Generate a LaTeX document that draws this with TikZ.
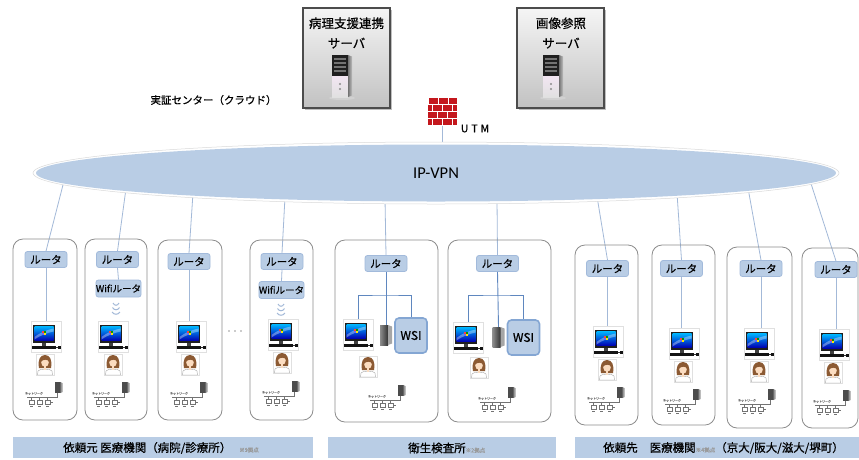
\documentclass[tikz,border=0pt]{standalone}
\usepackage{fontspec}
\setmainfont{Noto Sans CJK JP}[FakeBold=0.6]
\newfontfamily\latinfont{Carlito}
\usetikzlibrary{shapes.geometric}

\definecolor{netblue}{HTML}{B9CDE5}
\definecolor{netedge}{HTML}{A2BADB}
\definecolor{wire}{HTML}{A3B9D8}
\definecolor{treewire}{HTML}{5F87BF}
\definecolor{wsiedge}{HTML}{84A6D3}
\definecolor{hair}{HTML}{8C5A33}
\definecolor{skin}{HTML}{FBDCC0}
\definecolor{brick}{HTML}{C4171D}

\pgfdeclarelayer{back}
\pgfdeclarelayer{wires}
\pgfsetlayers{back,wires,main}

\tikzset{
  fsz/.style={font={\fontsize{#1}{#1}\selectfont}},
  grpbox/.style={draw=black!45, line width=0.8, rounded corners=10},
  routerbox/.style={fill=netblue, draw=netedge, line width=0.8, rounded corners=2.5,
    minimum width=42, minimum height=16, inner sep=0, fsz=10.5},
  wifibox/.style={routerbox, minimum width=43, minimum height=17, fsz=9.5},
  wirelink/.style={draw=wire, line width=0.8},
  treeline/.style={draw=treewire, line width=0.9},
  wsibox/.style={fill=netblue, draw=wsiedge, line width=1.6, rounded corners=4,
    minimum width=32, minimum height=35, inner sep=0, fsz=12},
  barbox/.style={fill=netblue, minimum height=21, inner sep=0},
  srvbox/.style={top color=black!4, bottom color=black!24, draw=black!70, line width=1.1,
    minimum width=87, minimum height=100, inner sep=0},
  thumb/.style={draw=black!12, line width=0.4, inner sep=0},
  % desktop computer
  pcicon/.pic={
    \node[thumb, minimum width=30, minimum height=31] (-frame) at (2,11.5) {};
    \fill[black!88] (-11,0) rectangle (11,17.5);
    \shade[top color=cyan!70!blue, bottom color=blue!70!black] (-9.5,1.5) rectangle (9.5,15.5);
    \fill[white, opacity=.35] (-9.5,12) .. controls (-3,7) and (3,5) .. (9.5,3.5) -- (9.5,6.5) .. controls (3,8) and (-3,10) .. (-9.5,14.5) -- cycle;
    \fill[red!75] (-1.8,6) rectangle (-0.2,7.6);
    \fill[green!60!black] (0.2,6) rectangle (1.8,7.6);
    \fill[blue!60] (-1.8,8) rectangle (-0.2,9.6);
    \fill[yellow!90!orange] (0.2,8) rectangle (1.8,9.6);
    \fill[black!75] (-2,17.5) rectangle (2,20.5);
    \fill[black!92] (-12,20.5) rectangle (12,23.5);
    \draw[black!80, line width=.4] (12,22) -- (14,22);
    \fill[black!92] (14,21) rectangle (17,23.5);
  },
  % doctor
  personicon/.pic={
    \node[thumb, minimum width=18, minimum height=21] (-frame) at (0,10) {};
    \fill[hair] (-6,13) .. controls (-7.5,5) and (-5,0) .. (0,0) .. controls (5,0) and (7.5,5) .. (6,13) -- cycle;
    \filldraw[fill=white, draw=black!35, line width=.4] (-7.5,20) -- (-7,16) .. controls (-6,13.5) and (6,13.5) .. (7,16) -- (7.5,20) -- cycle;
    \fill[skin] (-1.2,10.5) rectangle (1.2,14.5);
    \fill[skin] (0,7.5) ellipse (3.8 and 4.3);
    \fill[hair] (-4.6,6.8) .. controls (-4,1.5) and (4,1.5) .. (4.6,6.8) .. controls (2,4) and (-1,4) .. (-4.6,6.8) -- cycle;
  },
  % local network with a small tower and three terminals
  neticon/.pic={
    \fill[black!70] (11,0) rectangle (16.5,11);
    \fill[black!40] (16.5,0) -- (18.5,1) -- (18.5,10) -- (16.5,11) -- cycle;
    \draw[black!55, line width=0.5] (13.5,11) -- (13.5,15) -- (-17,15);
    \node[inner sep=0, text=black!55, font={\fontsize{3}{3}\selectfont}] (-lbl) at (-10,11.5) {ネットワーク};
    \foreach \dx in {-15,-7,1}{
      \draw[black!55, line width=0.5] (\dx+2.5,15) -- (\dx+2.5,18);
      \draw[black!55, line width=0.45, fill=white] (\dx,18) rectangle (\dx+5,22.5);
      \draw[black!55, line width=0.45] (\dx+1,24) -- (\dx+4,24);
    }
    \draw[black!55, line width=0.45] (6,20) -- (9,20);
  },
  % large tower server
  bigserver/.pic={
    \fill[black!18] (0,43) ellipse (13 and 2);
    \fill[black!88] (-10,0) rectangle (6,21);
    \foreach \yy in {3,7,11,15}{\fill[black!55] (-8,\yy) rectangle (4,\yy+1.6);}
    \shade[top color=white!90!violet, bottom color=black!12] (-10,21) rectangle (6,42);
    \fill[black!45] (-2,29) circle (1.1);
    \fill[black!45] (-2,34) circle (1.1);
    \shade[left color=black!55, right color=black!25] (6,0) -- (10,1.5) -- (10,40.5) -- (6,42) -- cycle;
  },
  % small tower server
  smallserver/.pic={
    \node[inner sep=0, minimum width=12, minimum height=20] (-box) at (0,10) {};
    \shade[left color=black!45, right color=black!80] (-6,0) rectangle (2,20);
    \fill[black!35] (2,0) -- (6,1.5) -- (6,18.5) -- (2,20) -- cycle;
  },
  % wireless waves
  wifisig/.pic={
    \foreach \i/\w in {0/3,4.5/3.5,9/4}{
      \draw[wire, line width=1] (-\w,\i) .. controls (-\w/2,\i+3) and (\w/2,\i+3) .. (\w,\i);
    }
  }
}

\begin{document}
\begin{tikzpicture}[x=1pt,y=-1pt]
\useasboundingbox (0,0) rectangle (859,459);
\begin{pgfonlayer}{back}
  \fill[white] (0,0) rectangle (859,459);
\end{pgfonlayer}

% ---------- servers in the data centre ----------
\fill[black!25] (305,10) rectangle (392,110);
\node[srvbox] (srvA) at (346.5,58) {};
\node[inner sep=0, align=center, font={\fontsize{12.5}{20}\selectfont}] (srvAt) at (346.5,33) {病理支援連携\\サーバ};
\pic (towerA) at (342,55) {bigserver};

\fill[black!25] (519,10) rectangle (606,110);
\node[srvbox] (srvB) at (560.5,58) {};
\node[inner sep=0, align=center, font={\fontsize{12.5}{20}\selectfont}] (srvBt) at (561,33) {画像参照\\サーバ};
\pic (towerB) at (553,55) {bigserver};

\node[inner sep=0, fsz=10.5] (cloud) at (213.5,100) {実証センター（クラウド）};

% ---------- UTM firewall ----------
\node[inner sep=0, minimum width=30, minimum height=28] (fw) at (442,111) {};
\begin{scope}[fill=brick, draw=white, line width=0.7]
  \filldraw (428,97) rectangle (438,104); \filldraw (438,97) rectangle (448,104); \filldraw (448,97) rectangle (457,104);
  \filldraw (427,104) rectangle (432,111); \filldraw (432,104) rectangle (442,111); \filldraw (442,104) rectangle (452,111); \filldraw (452,104) rectangle (457,111);
  \filldraw (427,111) rectangle (437,118); \filldraw (437,111) rectangle (447,118); \filldraw (447,111) rectangle (457,118);
  \filldraw (427,118) rectangle (432,125); \filldraw (432,118) rectangle (442,125); \filldraw (442,118) rectangle (452,125); \filldraw (452,118) rectangle (457,125);
\end{scope}
\node[inner sep=0, fsz=10.5] (utm) at (475,128.5) {U\hspace{3pt}T\hspace{3pt}M};

% ---------- IP-VPN ----------
\node[ellipse, minimum width=806, minimum height=62, fill=white, draw=black!15, line width=0.5] (ipglow) at (436,173) {};
\node[ellipse, minimum width=800, minimum height=57, fill=netblue, inner sep=0,
      font={\latinfont\fontsize{16.5}{16.5}\selectfont}] (ip) at (436,173) {IP-VPN};

\coordinate (ipt) at (442,146);
\coordinate (e1) at (64,181);
\coordinate (e2) at (126,188.5);
\coordinate (e3) at (193,193);
\coordinate (e4) at (285,197);
\coordinate (e5) at (385,199);
\coordinate (e6) at (497,199);
\coordinate (e7) at (597,196.5);
\coordinate (e8) at (677,193);
\coordinate (e9) at (748,188);
\coordinate (e10) at (810,180.5);

% ---------- sites ----------
\draw[grpbox] (13,239) rectangle (77,420);
\draw[grpbox] (85,239) rectangle (147,420);
\draw[grpbox] (158,240) rectangle (222,420);
\draw[grpbox] (250,240) rectangle (313,420);
\draw[grpbox] (335,240) rectangle (438,422);
\draw[grpbox] (448,240) rectangle (551,422);
\draw[grpbox] (575,245) rectangle (638,425);
\draw[grpbox] (652,245) rectangle (715,425);
\draw[grpbox] (727,247) rectangle (792,428);
\draw[grpbox] (802,248) rectangle (858,428);

\node[routerbox] (r1) at (46,259.5) {ルータ};
\node[routerbox] (r2) at (117.5,259.5) {ルータ};
\node[routerbox] (r3) at (189,261.5) {ルータ};
\node[routerbox] (r4) at (282,261.5) {ルータ};
\node[routerbox] (r5) at (386,263.5) {ルータ};
\node[routerbox] (r6) at (497.5,263.5) {ルータ};
\node[routerbox] (r7) at (607.5,268.5) {ルータ};
\node[routerbox] (r8) at (681.5,268.5) {ルータ};
\node[routerbox] (r9) at (761,268.5) {ルータ};
\node[routerbox] (r10) at (836,269.5) {ルータ};

\node[wifibox] (w2) at (118.5,288.5) {Wifiルータ};
\node[wifibox] (w4) at (281.5,290) {Wifiルータ};
\pic (sig2) at (116,303) {wifisig};
\pic (sig4) at (281,304) {wifisig};

\pic (pc1) at (44,325) {pcicon};
\pic (pc2) at (111,325) {pcicon};
\pic (pc3) at (189,325) {pcicon};
\pic (pc4) at (281,323) {pcicon};
\pic (pc5) at (356,323) {pcicon};
\pic (pc6) at (466,326) {pcicon};
\pic (pc7) at (606,330) {pcicon};
\pic (pc8) at (682,332) {pcicon};
\pic (pc9) at (757,332) {pcicon};
\pic (pc10) at (832,333) {pcicon};

\pic (dr1) at (45,355) {personicon};
\pic (dr2) at (113,355) {personicon};
\pic (dr3) at (190,355) {personicon};
\pic (dr4) at (282,353) {personicon};
\pic (dr5) at (368,357) {personicon};
\pic (dr6) at (479,358) {personicon};
\pic (dr7) at (607,360) {personicon};
\pic (dr8) at (683,362) {personicon};
\pic (dr9) at (759,362) {personicon};
\pic (dr10) at (833,363) {personicon};

\pic (lan1) at (44,382) {neticon};
\pic (lan2) at (111,382) {neticon};
\pic (lan3) at (189,382) {neticon};
\pic (lan4) at (281,381) {neticon};
\pic (lan5) at (387,385) {neticon};
\pic (lan6) at (497,387) {neticon};
\pic (lan7) at (606,387) {neticon};
\pic (lan8) at (682,389) {neticon};
\pic (lan9) at (757,389) {neticon};
\pic (lan10) at (832,390) {neticon};

% inspection centres: scanner server and WSI storage
\pic (sv5) at (386,325) {smallserver};
\pic (sv6) at (498.5,327) {smallserver};
\node[wsibox] (wsi5) at (411,335.5) {WSI};
\node[wsibox] (wsi6) at (523.5,337.5) {WSI};
\coordinate (j5) at (386,295);
\coordinate (j6) at (497.5,295);

% more sites omitted
\foreach \dx in {229,235,241}{\fill[black!40] (\dx,331) circle (0.9);}

% ---------- connectors ----------
\begin{pgfonlayer}{wires}
  \draw[wirelink] (fw.south) -- (ipt);
  \draw[wirelink] (e1) -- (r1.north);
  \draw[wirelink] (e2) -- (r2.north);
  \draw[wirelink] (e3) -- (r3.north);
  \draw[wirelink] (e4) -- (r4.north);
  \draw[wirelink] (e5) -- (r5.north);
  \draw[wirelink] (e6) -- (r6.north);
  \draw[wirelink] (e7) -- (r7.north);
  \draw[wirelink] (e8) -- (r8.north);
  \draw[wirelink] (e9) -- (r9.north);
  \draw[wirelink] (e10) -- (r10.north);
\end{pgfonlayer}
\draw[wirelink] (r1.south) -- (r1.south |- pc1-frame.north);
\draw[wirelink] (r2.south) -- (w2.north);
\draw[wirelink] (r3.south) -- (r3.south |- pc3-frame.north);
\draw[wirelink] (r4.south) -- (w4.north);
\draw[wirelink] (r7.south) -- (r7.south |- pc7-frame.north);
\draw[wirelink] (r8.south) -- (r8.south |- pc8-frame.north);
\draw[wirelink] (r9.south) -- (r9.south |- pc9-frame.north);
\draw[wirelink] (r10.south) -- (r10.south |- pc10-frame.north);

\draw[treeline] (r5.south) -- (sv5-box.north);
\draw[treeline] (pc5-frame.north) |- (j5) -| (wsi5.north);
\draw[treeline] (r6.south) -- (sv6-box.north);
\draw[treeline] (pc6-frame.north) |- (j6) -| (wsi6.north);

% ---------- captions ----------
\node[barbox, minimum width=300] (bar1) at (163,447.5) {};
\node[barbox, minimum width=228] (bar2) at (442,447.5) {};
\node[barbox, minimum width=284] (bar3) at (717,447.5) {};
\newcommand\sitecount[1]{{\color{black!40}\fontsize{5.5}{6}\selectfont ※#1拠点}}
\node[inner sep=0, anchor=west, fsz=11.5] (cap1) at (63,448) {依頼元 医療機関（病院/診療所）\hspace{8pt}\sitecount{9}};
\node[inner sep=0, anchor=west, fsz=11.5] (cap2) at (408,448) {衛生検査所\sitecount{2}};
\node[inner sep=0, anchor=west, fsz=11.5] (cap3) at (603,448) {依頼先\hspace{12pt}医療機関\sitecount{4}（京大/阪大/滋大/堺町）};
\end{tikzpicture}
\end{document}
